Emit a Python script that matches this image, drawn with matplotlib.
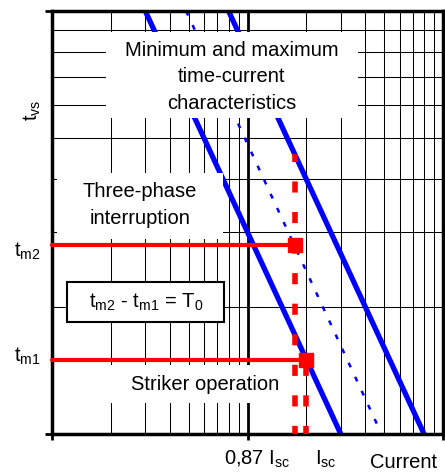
import matplotlib
matplotlib.use('Agg')
import matplotlib.pyplot as plt
from matplotlib.patches import Rectangle

plt.rcParams['font.family'] = ['Liberation Sans', 'DejaVu Sans']
plt.rcParams['mathtext.fontset'] = 'custom'
plt.rcParams['mathtext.rm'] = 'Liberation Sans'
plt.rcParams['mathtext.it'] = 'Liberation Sans'
plt.rcParams['mathtext.bf'] = 'Liberation Sans:bold'

# ---------------- data ----------------
t_ends = [10.0, 1.0]          # time at top and bottom of the curves
i_min_curve = [3.0, 30.0]     # minimum time-current characteristic
i_max_curve = [8.0, 80.0]     # maximum time-current characteristic
i_mid_curve = [4.85, 48.5]    # dashed intermediate characteristic
i_sc = 20.0                   # short-circuit current
i_087 = 17.4                  # 0.87 * I_sc
t_m1 = 1.5
t_m2 = 2.8
t_start_087 = 4.6             # where the 0.87 Isc marker line starts
x_limits = [1, 100]
y_limits = [1, 10]

W, H = 445, 472
fig = plt.figure(figsize=(W / 100, H / 100), dpi=100)
ax = fig.add_axes([52 / W, 1 - 434 / H, 391 / W, 423 / H])
ax.set_xscale('log')
ax.set_yscale('log')
ax.set_xlim(x_limits)
ax.set_ylim(y_limits)

# grid
ax.grid(which='minor', color='black', lw=0.75, zorder=0.5)
ax.grid(which='major', axis='x', color='black', lw=2.0, zorder=0.6)
ax.set_axisbelow(True)
ax.set_xticklabels([])
ax.set_yticklabels([])
ax.set_xticklabels([], minor=True)
ax.set_yticklabels([], minor=True)
ax.tick_params(which='minor', length=0)
ax.tick_params(axis='x', which='major', length=4, width=2, direction='out')
ax.tick_params(axis='y', which='major', length=5, width=2, direction='out')
for s in ax.spines.values():
    s.set_linewidth(2.5)

# blue characteristics
ax.plot(i_min_curve, t_ends, color='#0000ff', lw=3.8, zorder=2, solid_capstyle='butt')
ax.plot(i_max_curve, t_ends, color='#0000ff', lw=3.8, zorder=2, solid_capstyle='butt')
ax.plot(i_mid_curve, t_ends, color='#0000ff', lw=1.8, zorder=2,
        linestyle=(0, (2.0, 4.2)), dash_capstyle='butt')

# white boxes (layout in pixels)
def px(x, y):
    return x / W, 1 - y / H

def wbox(x0, y0, x1, y1, edge=None, lw=0):
    xa, ya = px(x0, y1)
    r = Rectangle((xa, ya), (x1 - x0) / W, (y1 - y0) / H, transform=fig.transFigure,
                  facecolor='white', edgecolor=edge if edge else 'none', lw=lw, zorder=3)
    ax.add_patch(r)

wbox(106, 32, 358, 118)
wbox(57, 173, 223, 239)
wbox(67, 282, 224, 322, edge='black', lw=1.5)
wbox(60, 365, 290, 403)

fs = 14.5
def ftext(x, y, s, **kw):
    kw.setdefault('ha', 'center')
    kw.setdefault('va', 'center')
    ax.text(*px(x, y), s, transform=fig.transFigure, fontsize=fs, zorder=4, **kw)

ftext(232, 77, 'Minimum and maximum\ntime-current\ncharacteristics',
      multialignment='center', linespacing=1.5)
ftext(140, 205, 'Three-phase\ninterruption', multialignment='center', linespacing=1.5)
ftext(146, 302, r't$_{\mathrm{m2}}$ - t$_{\mathrm{m1}}$ = T$_{\mathrm{0}}$')
ftext(205, 385, 'Striker operation')

# outside labels
ftext(32, 110, r't$_{\mathrm{vs}}$', rotation=90)
ftext(27, 257, r't$_{\mathrm{m2}}$', va='baseline')
ftext(27, 362, r't$_{\mathrm{m1}}$', va='baseline')
ftext(257, 465, r'0,87 I$_{\mathrm{sc}}$', va='baseline')
ftext(326, 465, r'I$_{\mathrm{sc}}$', va='baseline')
ftext(404, 468, 'Current', va='baseline')

# red markers
red = '#ff0000'
ax.plot([x_limits[0], i_087], [t_m2, t_m2], color=red, lw=3, zorder=5,
        solid_capstyle='round', clip_on=False)
ax.plot([x_limits[0], i_sc], [t_m1, t_m1], color=red, lw=3, zorder=5,
        solid_capstyle='round', clip_on=False)
ax.plot([i_087], [t_m2], marker='s', ms=10, color=red, zorder=6)
ax.plot([i_sc], [t_m1], marker='s', ms=10, color=red, zorder=6)
ax.plot([i_087, i_087], [y_limits[0], t_start_087], color=red, lw=4, zorder=5,
        linestyle=(0.54, (2.0, 3.5)), dash_capstyle='butt')
ax.plot([i_sc, i_sc], [y_limits[0], t_m1], color=red, lw=4, zorder=5,
        linestyle=(0.54, (2.0, 3.5)), dash_capstyle='butt')

fig.savefig('out.png', dpi=100)
